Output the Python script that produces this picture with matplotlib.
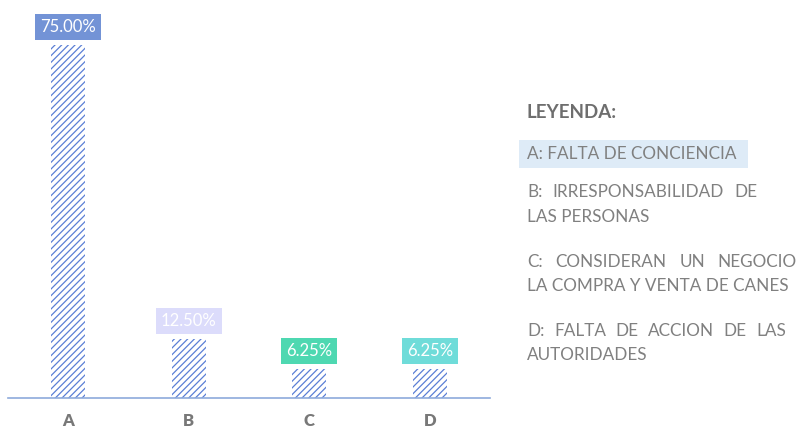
import matplotlib
matplotlib.use("Agg")
import matplotlib.pyplot as plt

categories = ["A", "B", "C", "D"]
values = [75.00, 12.50, 6.25, 6.25]
value_labels = ["75.00%", "12.50%", "6.25%", "6.25%"]
label_colors = ["#7393d6", "#dcdcfb", "#4ed8b1", "#6fdcd9"]

legend_title = "LEYENDA:"
legend_lines = [
    ["A: FALTA DE CONCIENCIA"],
    ["B: IRRESPONSABILIDAD DE", "LAS PERSONAS"],
    ["C: CONSIDERAN UN NEGOCIO", "LA COMPRA Y VENTA DE CANES"],
    ["D: FALTA DE ACCION DE LAS", "AUTORIDADES"],
]

FONT = ["Lato", "DejaVu Sans"]
GRAY = "#808080"
HATCH_BLUE = "#5b7fd6"
W, H = 799, 430

plt.rcParams["font.family"] = FONT
plt.rcParams["hatch.linewidth"] = 0.9

fig = plt.figure(figsize=(W / 100, H / 100), dpi=100)
ax = fig.add_axes([8 / W, (H - 398) / H, 482 / W, 398 / H])

x = range(len(categories))
ax.bar(x, values, width=0.28, color="white", edgecolor=HATCH_BLUE,
       linewidth=0, hatch="/////")

for i, (v, lab, c) in enumerate(zip(values, value_labels, label_colors)):
    ax.annotate(lab, xy=(i, v), xytext=(0, 7), textcoords="offset points",
                ha="center", va="bottom", color="white", fontsize=12,
                bbox=dict(boxstyle="square,pad=0.3", fc=c, ec="none"))

ax.set_xlim(-0.5, 3.5)
ax.set_ylim(0, 84.6)
ax.set_xticks(list(x))
ax.set_xticklabels(categories, fontsize=12, fontweight="heavy", color="#787878")
ax.tick_params(axis="x", length=0, pad=11)
ax.set_yticks([])
for side in ("top", "left", "right"):
    ax.spines[side].set_visible(False)
ax.spines["bottom"].set_color("#8eaadb")
ax.spines["bottom"].set_linewidth(1.2)

# legend block on the right
fig.text(527 / W, 1 - 112 / H, legend_title, fontsize=13.5, fontweight="bold",
         color="#6e6e6e", va="center", ha="left")

fig.patches.append(plt.Rectangle((519 / W, 1 - 168 / H), 229 / W, 28 / H,
                                 transform=fig.transFigure, fc="#deebf7",
                                 ec="none", zorder=0))

renderer = fig.canvas.get_renderer()
TXT_SIZE = 12.3


def justified(words_line, y, right):
    # spread words evenly between x=527 and the given right edge
    words = words_line.split()
    texts = [fig.text(0, 1 - y / H, w, fontsize=TXT_SIZE, color=GRAY,
                      va="center", ha="left") for w in words]
    widths = [t.get_window_extent(renderer).width for t in texts]
    gap = (right - 527 - sum(widths)) / (len(words) - 1)
    pos = 527
    for t, wd in zip(texts, widths):
        t.set_x(pos / W)
        pos += wd + gap


line_y = [[154], [192, 217], [262, 286], [331, 355]]
right_edges = [None, 757, 797, 786]
for lines, ys, right in zip(legend_lines, line_y, right_edges):
    for k, (txt, y) in enumerate(zip(lines, ys)):
        if k == 0 and right is not None and len(lines) > 1:
            justified(txt, y, right)
        else:
            fig.text(527 / W, 1 - y / H, txt, fontsize=TXT_SIZE, color=GRAY,
                     va="center", ha="left")

fig.savefig("out.png", dpi=100)
